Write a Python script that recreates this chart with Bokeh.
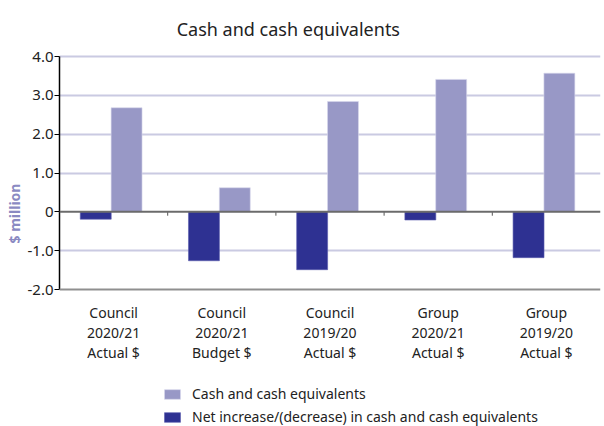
from bokeh.plotting import figure
from bokeh.models import (Range1d, FixedTicker, LinearAxis, Span, Label, Legend, LegendItem, ColumnDataSource)
from bokeh.core.properties import value
from bokeh.embed import file_html
from bokeh.resources import INLINE

categories = ["Council\n2020/21\nActual $", "Council\n2020/21\nBudget $", "Council\n2019/20\nActual $",
              "Group\n2020/21\nActual $", "Group\n2019/20\nActual $"]
cash = [2.68, 0.62, 2.84, 3.41, 3.57]
net_change = [-0.19, -1.26, -1.49, -0.21, -1.18]
y_ticks = [-2, -1, 0, 1, 2, 3, 4]
y_tick_labels = ["-2.0", "-1.0", "0", "1.0", "2.0", "3.0", "4.0"]
series_names = ["Cash and cash equivalents", "Net increase/(decrease) in cash and cash equivalents"]
title_text = "Cash and cash equivalents"
y_label = "$ million"

FONT = "Noto Sans"
CASH_COLOR = "#9898c6"
NET_COLOR = "#2e3192"
TEXT_COLOR = "#222222"

n = len(categories)
idx = list(range(n))

# frame covers the full height; value axis spans -2..4 between y=56 and y=289 px
PX_PER_UNIT = 233 / 6.0
y_top = 4 + 56 / PX_PER_UNIT
y_bot = -2 - 137 / PX_PER_UNIT

p = figure(width=604, height=426, output_backend="svg", toolbar_location=None,
           x_range=Range1d(0, n), y_range=Range1d(y_bot, y_top),
           x_axis_location=None, y_axis_location=None,
           min_border=0, min_border_left=59, min_border_right=4)
p.outline_line_color = None
p.background_fill_color = "white"
p.border_fill_color = "white"

# grid
p.xgrid.visible = False
p.ygrid.ticker = FixedTicker(ticks=[-1, 1, 2, 3, 4])
p.ygrid.grid_line_color = "#cacae2"
p.ygrid.grid_line_width = 2

# bars
src = ColumnDataSource(dict(
    xn=[i + 0.335 for i in idx], xc=[i + 0.62 for i in idx],
    cash=cash, net=net_change))
r_net = p.vbar(x="xn", top="net", bottom=0, width=0.286, source=src,
               fill_color=NET_COLOR, line_color="#5a5cae", line_width=0.6)
r_cash = p.vbar(x="xc", top="cash", bottom=0, width=0.286, source=src,
                fill_color=CASH_COLOR, line_color="#d8d8ec", line_width=0.6)

# zero line and bottom line
p.add_layout(Span(location=0, dimension="width", line_color="#6b6b6b", line_width=2))
p.add_layout(Span(location=-2, dimension="width", line_color="#8f8f8f", line_width=2))

# boundary ticks on zero line
p.segment(x0=idx[1:], x1=idx[1:], y0=[0] * (n - 1), y1=[-0.1] * (n - 1), line_color="#555555", line_width=1)

# left axis
yaxis = LinearAxis(ticker=FixedTicker(ticks=y_ticks), bounds=(-2, 4),
                   major_label_overrides={t: l for t, l in zip(y_ticks, y_tick_labels)})
yaxis.axis_line_color = "black"
yaxis.axis_line_width = 1.5
yaxis.major_tick_line_color = "black"
yaxis.major_tick_in = 0
yaxis.major_tick_out = 5
yaxis.minor_tick_line_color = None
yaxis.major_label_text_font = FONT
yaxis.major_label_text_font_size = "15px"
yaxis.major_label_text_color = TEXT_COLOR
yaxis.major_label_standoff = 1
yaxis.axis_label = y_label
yaxis.axis_label_text_font = FONT
yaxis.axis_label_text_font_size = "14px"
yaxis.axis_label_text_font_style = "bold"
yaxis.axis_label_text_color = "#8a8ac2"
yaxis.axis_label_standoff = 0
p.add_layout(yaxis, "left")

# category labels below the value axis
p.text(x=[i + 0.5 for i in idx], y=[-2.36] * n, text=categories,
       text_font=value(FONT), text_font_size="14px", text_color=TEXT_COLOR,
       text_align="center", text_baseline="top", text_line_height=1.05)

# title
p.add_layout(Label(x=2.115, y=4.72, text=title_text, text_font=FONT,
                   text_font_size="18px", text_color=TEXT_COLOR, text_align="center",
                   text_baseline="alphabetic"))

legend = Legend(items=[LegendItem(label=series_names[0], renderers=[r_cash]),
                       LegendItem(label=series_names[1], renderers=[r_net])],
                location=(103, 0), orientation="vertical",
                glyph_width=20, glyph_height=12, label_height=17, spacing=4,
                padding=0, margin=0, border_line_color=None, background_fill_alpha=0,
                label_text_font=FONT, label_text_font_size="14px", label_text_color=TEXT_COLOR,
                label_standoff=10)
p.add_layout(legend, "center")

open("out.html", "w").write(file_html(p, INLINE))
